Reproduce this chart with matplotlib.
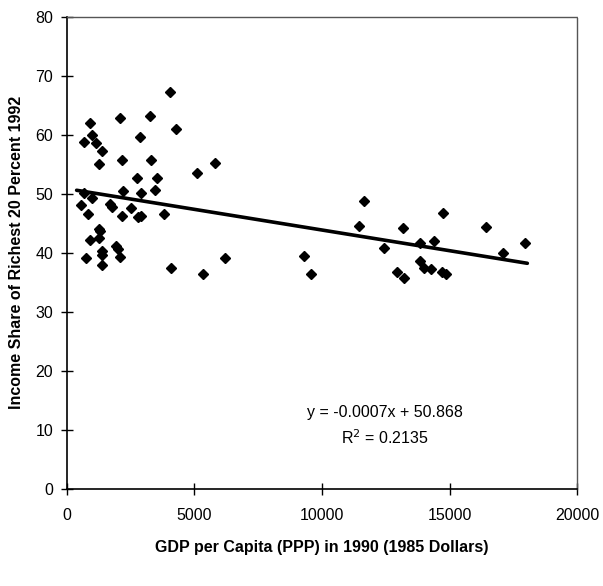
import matplotlib
matplotlib.use("Agg")
import matplotlib.pyplot as plt
import numpy as np

gdp = [890, 2100, 3240, 4280, 970, 680, 1120, 2870, 1370, 1250, 2150, 3290,
       2740, 3550, 3460, 2180, 2910, 650, 980, 535, 1670, 1775, 2530, 820,
       2140, 2800, 2900, 3800, 1240, 1305, 1250, 890, 1920, 2010, 1380, 1380,
       760, 2100, 1380, 4080, 5820, 5115, 6210, 5340, 4050,
       11660, 11470, 9280, 9550, 13160, 12430, 14750, 13830, 14380, 13850,
       13990, 14270, 12950, 13200, 14700, 14860, 16430, 17080, 17970]
share = [62.0, 62.9, 63.1, 61.0, 60.0, 58.8, 58.6, 59.7, 57.3, 55.1, 55.7, 55.7,
         52.6, 52.7, 50.7, 50.5, 50.1, 50.2, 49.3, 48.1, 48.2, 47.7, 47.6, 46.6,
         46.3, 46.1, 46.3, 46.6, 44.1, 43.7, 42.6, 42.1, 41.1, 40.6, 40.3, 39.7,
         39.1, 39.3, 37.9, 37.4, 55.2, 53.6, 39.2, 36.5, 67.3,
         48.7, 44.5, 39.5, 36.4, 44.2, 40.8, 46.8, 41.6, 42.0, 38.6,
         37.4, 37.3, 36.8, 35.7, 36.7, 36.5, 44.4, 40.0, 41.7]

slope = -0.0007
intercept = 50.868
r2 = 0.2135
fit_range = [380, 18050]

x_ticks = [0, 5000, 10000, 15000, 20000]
y_ticks = [0, 10, 20, 30, 40, 50, 60, 70, 80]

plt.rcParams['font.family'] = ['Liberation Sans', 'DejaVu Sans']

fig = plt.figure(figsize=(6.03, 5.86), dpi=100)
ax = fig.add_axes([0.111, 0.1655, 0.846, 0.806])

ax.plot(gdp, share, linestyle='none', marker='D', markersize=5.5,
        color='black', zorder=3)
fx = np.array(fit_range, dtype=float)
ax.plot(fx, slope * fx + intercept, color='black', linewidth=2.6,
        solid_capstyle='round', zorder=2)

ax.set_xlim(0, 20000)
ax.set_ylim(0, 80)
ax.set_xticks(x_ticks)
ax.set_yticks(y_ticks)
ax.tick_params(direction='inout', length=8, width=1, labelsize=11.5, pad=6)
ax.tick_params(axis='x', pad=10)

for side in ['top', 'right']:
    ax.spines[side].set_linestyle((0, (1, 1)))
    ax.spines[side].set_color('#555555')
    ax.spines[side].set_linewidth(1)
for side in ['left', 'bottom']:
    ax.spines[side].set_color('black')
    ax.spines[side].set_linewidth(1.2)

ax.set_xlabel('GDP per Capita (PPP) in 1990 (1985 Dollars)', fontsize=11.5,
              fontweight='bold', labelpad=12)
ax.set_ylabel('Income Share of Richest 20 Percent 1992', fontsize=11.5,
              fontweight='bold', labelpad=8)

ax.text(12450, 12.9, 'y = -0.0007x + 50.868', ha='center', va='center',
        fontsize=11.5)
ax.text(12450, 8.7, f'R$^2$ = {r2}', ha='center', va='center', fontsize=11.5)

fig.savefig('out.png', dpi=100)
